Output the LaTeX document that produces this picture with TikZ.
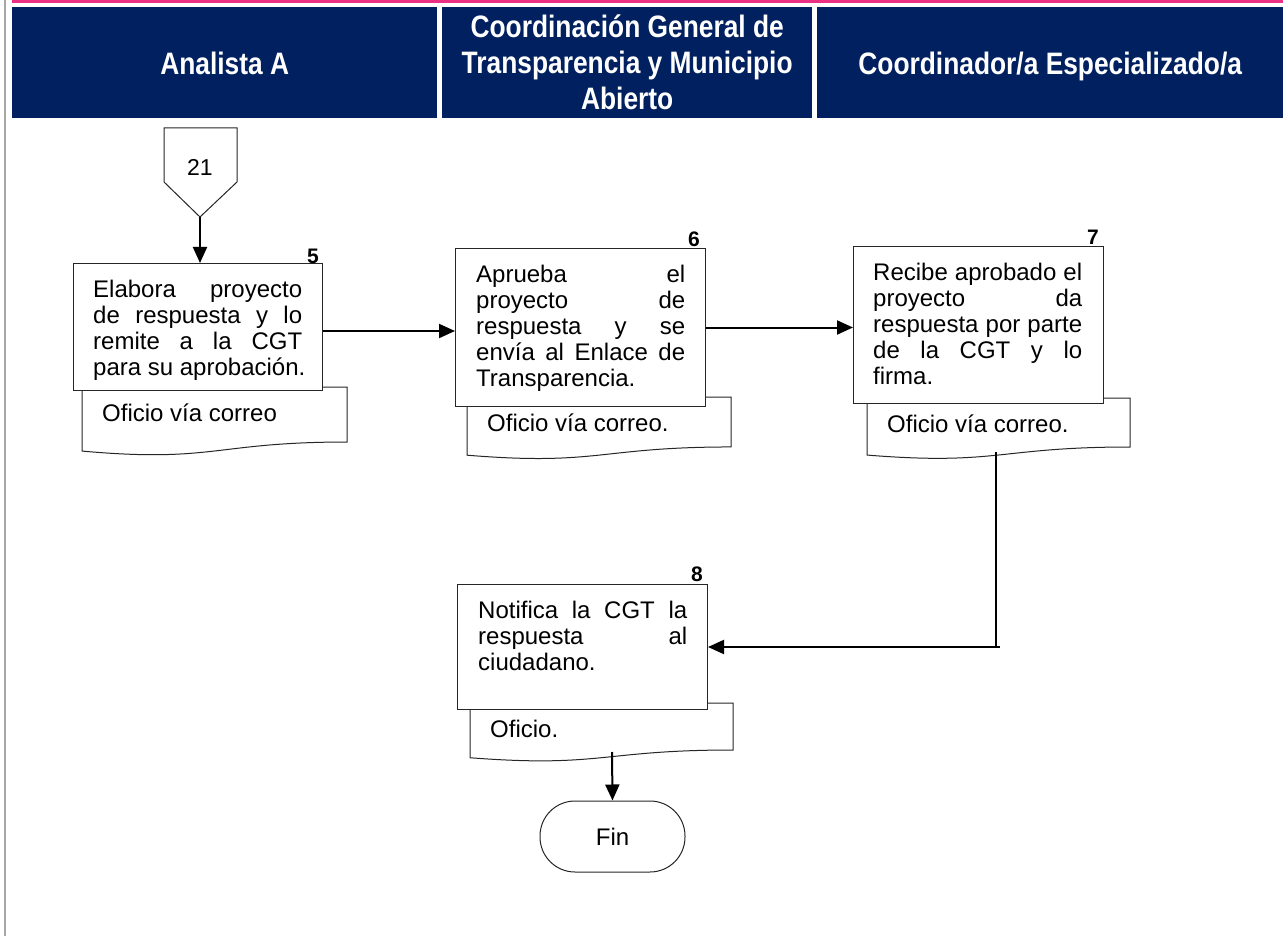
\documentclass[tikz,border=0pt]{standalone}
\usepackage{fontspec}
\setmainfont{Liberation Sans}
\newfontfamily\hdrfont[FakeStretch=0.85]{Liberation Sans}
\usetikzlibrary{arrows.meta}
\definecolor{navy}{HTML}{002060}
\definecolor{band}{HTML}{EC3184}
\definecolor{rulegray}{HTML}{A6A6A6}

\tikzset{
  hdr/.style={fill=navy, text=white, font=\hdrfont\bfseries\fontsize{31}{36}\selectfont,
    align=center, inner sep=0pt, minimum height=111pt, anchor=north west},
  procbox/.style={draw=black!85, line width=1pt, fill=white},
  docbox/.style={draw=black!85, line width=1pt, fill=white},
  body/.style={font=\fontsize{24}{26}\selectfont, align=left, inner sep=0pt, anchor=north west},
  doctext/.style={font=\fontsize{24}{26}\selectfont, inner sep=0pt, anchor=base west},
  num/.style={font=\bfseries\fontsize{21}{21}\selectfont, inner sep=0pt, anchor=base east},
  flow/.style={line width=2pt, -{Triangle[length=16pt,width=14pt]}},
  link/.style={line width=2pt},
}

% justified line of a process text
\newcommand\jl[1]{\makebox[209pt][s]{#1}}
% single header line, baseline placed below the lane centre
\newcommand\hl[1]{\raisebox{-12pt}[0pt][0pt]{#1}}
% document symbol: left x, top y, right x, height
\newcommand\docsym[4]{%
  \draw[docbox] (#1,#2) -- (#3,#2) -- (#3,{#2+0.802*#4})
    .. controls ({(#1+#3)/2},{#2+0.802*#4}) and ({(#1+#3)/2},{#2+1.1075*#4})
    .. (#1,{#2+0.934*#4}) -- cycle;}

\begin{document}
\begin{tikzpicture}[x=1pt,y=-1pt]
\useasboundingbox (0,0) rectangle (1283,936);
\fill[white] (0,0) rectangle (1283,936);

% frame and lane headers
\fill[band] (12,0) rectangle (1283,3);
\draw[rulegray, line width=2pt] (5,0) -- (5,936);
\node[hdr, minimum width=425pt] (h1) at (12,7) {\hl{Analista A}};
\node[hdr, minimum width=370pt] (h2) at (442,7) {Coordinación General de\\Transparencia y Municipio\\Abierto};
\node[hdr, minimum width=466pt] (h3) at (817,7) {\hl{Coordinador/a Especializado/a}};

% off-page connector 21
\draw[procbox] (164,128) -- (237,128) -- (237,182) -- (200,217) -- (164,182) -- cycle;
\node[font=\fontsize{23}{23}\selectfont] (p21) at (200,167) {21};
\coordinate (p21tip) at (200,217);

% documents (behind the process boxes)
\docsym{82}{387}{347}{68.6}
\docsym{467}{397}{731}{62.3}
\docsym{867}{398}{1130}{61.1}
\docsym{470}{703}{733}{58.6}
\node[doctext] (o5) at (102,421) {Oficio vía correo};
\node[doctext] (o6) at (487,431) {Oficio vía correo.};
\node[doctext] (o7) at (887,432) {Oficio vía correo.};
\node[doctext] (o8) at (490,737) {Oficio.};
\coordinate (c7) at (996,452);
\coordinate (c8) at (612,752);

% process boxes
\node[procbox, minimum width=249pt, minimum height=127pt, anchor=north west] (b5) at (73,263) {};
\node[procbox, minimum width=250pt, minimum height=158pt, anchor=north west] (b6) at (455,248) {};
\node[procbox, minimum width=250pt, minimum height=157pt, anchor=north west] (b7) at (853,246) {};
\node[procbox, minimum width=250pt, minimum height=125pt, anchor=north west] (b8) at (457,584) {};

\node[body] (t5) at (93,280) {\jl{Elabora proyecto}\\\jl{de respuesta y lo}\\\jl{remite a la CGT}\\para su aprobación.};
\node[body] (t6) at (476,265) {\jl{Aprueba el}\\\jl{proyecto de}\\\jl{respuesta y se}\\\jl{envía al Enlace de}\\Transparencia.};
\node[body] (t7) at (873,263) {\jl{Recibe aprobado el}\\\jl{proyecto da}\\\jl{respuesta por parte}\\\jl{de la CGT y lo}\\firma.};
\node[body] (t8) at (478,601) {\jl{Notifica la CGT la}\\\jl{respuesta al}\\ciudadano.};

\node[num] (n5) at (319,264) {5};
\node[num] (n6) at (700,247) {6};
\node[num] (n7) at (1099,245) {7};
\node[num] (n8) at (703,581) {8};

% terminator
\node[procbox, rounded corners=35pt, minimum width=145pt, minimum height=71pt,
  font=\fontsize{24}{24}\selectfont] (fin) at (612.5,836.5) {Fin};

% connectors
\draw[flow] (p21tip) -- (b5.north -| p21tip);
\draw[flow] ([yshift=-4pt]b5.east) -- ([yshift=-4pt]b5.east -| b6.west);
\draw[flow] (b6.east) -- (b6.east -| b7.west);
\draw[link] (c7) -- (c7 |- b8.east);
\draw[flow] ([xshift=4pt]c7 |- b8.east) -- (b8.east);
\draw[flow] (c8) -- (fin.north);
\end{tikzpicture}
\end{document}
